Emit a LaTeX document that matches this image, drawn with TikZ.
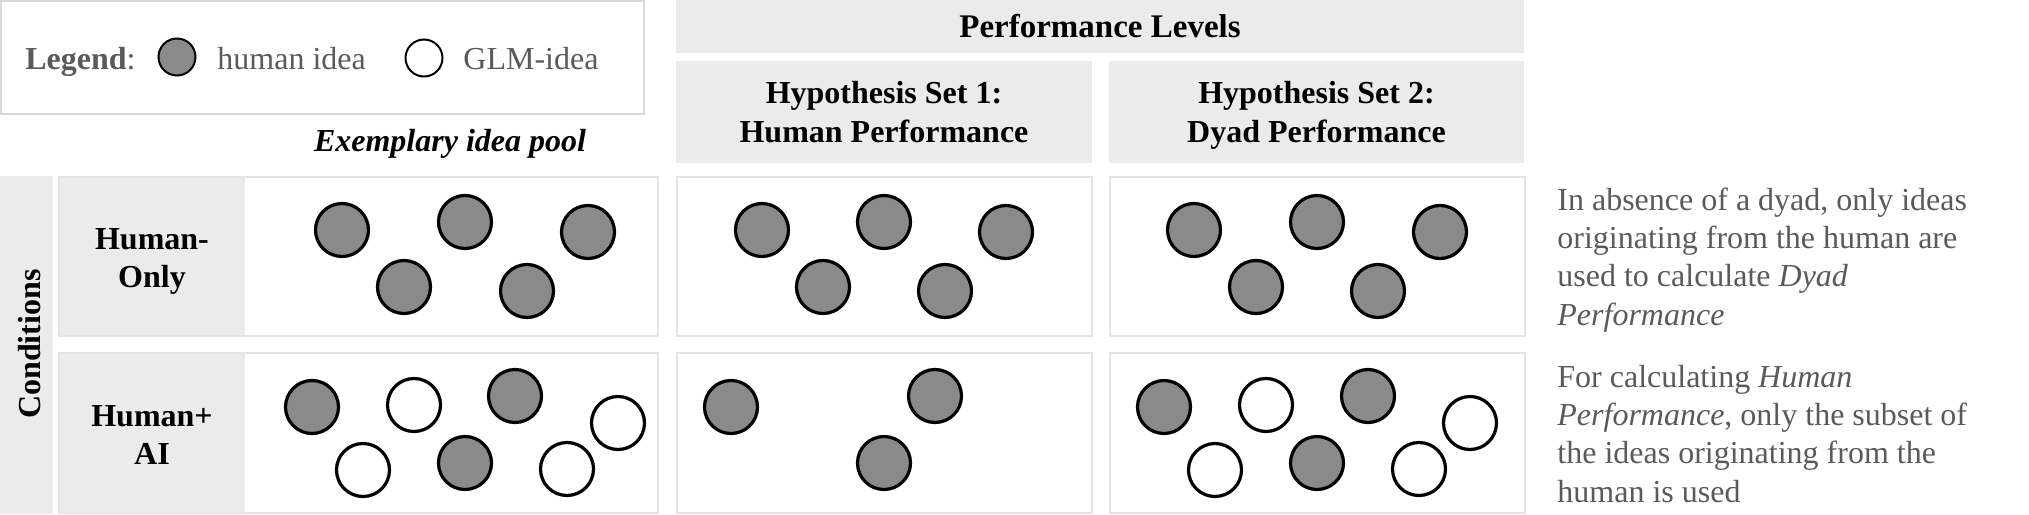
\documentclass[tikz,border=0pt]{standalone}
\usepackage{fontspec}
\setmainfont{Liberation Serif}
\usetikzlibrary{shapes.geometric}
\definecolor{hd}{HTML}{EBEBEB}
\definecolor{bd}{HTML}{E4E4E4}
\definecolor{lg}{HTML}{D9D9D9}
\definecolor{hf}{HTML}{8A8A8A}
\definecolor{tg}{HTML}{5A5A5A}
\tikzset{
  panel/.style={draw=bd, fill=white, line width=1pt},
  hdbox/.style={fill=hd},
  idea/.style={circle, draw=black, line width=1.6pt, inner sep=0pt, minimum size=26.5pt},
  hum/.style={idea, fill=hf},
  glm/.style={idea, fill=white},
  lhum/.style={circle, draw=black, line width=1pt, fill=hf, inner sep=0pt, minimum size=18.5pt},
  lglm/.style={circle, draw=black, line width=1pt, fill=white, inner sep=0pt, minimum size=18.5pt},
  hdtext/.style={font=\bfseries\fontsize{16}{19.5}\selectfont, align=center, inner sep=0pt, anchor=base},
  rowtext/.style={font=\bfseries\fontsize{16}{19}\selectfont, align=center, inner sep=0pt, anchor=base},
  note/.style={font=\fontsize{16}{19.15}\selectfont, text=tg, align=left, anchor=base west, inner sep=0pt},
  legtext/.style={font=\fontsize{16}{18}\selectfont, text=tg, anchor=base west, inner sep=0pt}
}
\begin{document}
\begin{tikzpicture}[x=0.5pt, y=-0.5pt]
\useasboundingbox (0,0) rectangle (2029,514);
% legend
\draw[draw=lg, line width=1.2pt, fill=white] (1,1) rectangle (644,114);
\node[legtext] (legL) at (25,69) {\textbf{Legend}:};
\node[lhum] (legH) at (177,57) {};
\node[legtext] (legHt) at (217,69) {human idea};
\node[lglm] (legG) at (424,58) {};
\node[legtext] (legGt) at (463,69) {GLM-idea};
% headers
\fill[hdbox] (676,0) rectangle (1524,53);
\node[hdtext, font=\bfseries\fontsize{16.5}{19.5}\selectfont] (perf) at (1100,38) {Performance Levels};
\fill[hdbox] (676,61) rectangle (1092,163);
\node[hdtext] (hs1) at (884,142) {Hypothesis Set 1:\\Human Performance};
\fill[hdbox] (1109,61) rectangle (1524,163);
\node[hdtext] (hs2) at (1316.5,142) {Hypothesis Set 2:\\Dyad Performance};
\node[font=\bfseries\itshape\fontsize{16}{19}\selectfont, anchor=base, inner sep=0pt] (pool) at (450,151) {Exemplary idea pool};
% conditions strip
\fill[hdbox] (0,176) rectangle (53,514);
\node[font=\bfseries\fontsize{16}{18}\selectfont, rotate=90, anchor=base, inner sep=0pt] (cond) at (40,344) {Conditions};
% row boxes
\draw[panel] (59,177) rectangle (658,336);
\fill[hdbox] (60,178) rectangle (245,335);
\draw[panel] (59,353) rectangle (658,513);
\fill[hdbox] (60,354) rectangle (245,513);
\node[rowtext] (r1) at (152,287) {Human-\\Only};
\node[rowtext] (r2) at (152,464) {Human+\\AI};
\draw[panel] (677,177) rectangle (1092,336);
\draw[panel] (1110,177) rectangle (1525,336);
\draw[panel] (677,353) rectangle (1092,513);
\draw[panel] (1110,353) rectangle (1525,513);
% exemplary row 1
\node[hum] (e1a) at (342,230) {};
\node[hum] (e1b) at (465,222) {};
\node[hum] (e1c) at (588,232) {};
\node[hum] (e1d) at (404,287) {};
\node[hum] (e1e) at (527,291) {};
% exemplary row 2
\node[hum] (e2a) at (312,407) {};
\node[glm] (e2b) at (414,405) {};
\node[hum] (e2c) at (515,396) {};
\node[glm] (e2d) at (618,423) {};
\node[glm] (e2e) at (363,470) {};
\node[hum] (e2f) at (465,463) {};
\node[glm] (e2g) at (567,469) {};
% H1 row 1
\node[hum] (a1a) at (762,230) {};
\node[hum] (a1b) at (884,222) {};
\node[hum] (a1c) at (1006,232) {};
\node[hum] (a1d) at (823,287) {};
\node[hum] (a1e) at (945,291) {};
% H2 row 1
\node[hum] (b1a) at (1194,230) {};
\node[hum] (b1b) at (1317,222) {};
\node[hum] (b1c) at (1440,232) {};
\node[hum] (b1d) at (1256,287) {};
\node[hum] (b1e) at (1378,291) {};
% H1 row 2
\node[hum] (a2a) at (731,407) {};
\node[hum] (a2c) at (935,396) {};
\node[hum] (a2f) at (884,463) {};
% H2 row 2
\node[hum] (b2a) at (1164,407) {};
\node[glm] (b2b) at (1266,405) {};
\node[hum] (b2c) at (1368,396) {};
\node[glm] (b2d) at (1470,423) {};
\node[glm] (b2e) at (1215,470) {};
\node[hum] (b2f) at (1317,463) {};
\node[glm] (b2g) at (1419,469) {};
% notes
\node[note] (n1) at (1557,325) {In absence of a dyad, only ideas\\originating from the human are\\used to calculate \textit{Dyad}\\\textit{Performance}};
\node[note] (n2) at (1557,502) {For calculating \textit{Human}\\\textit{Performance}, only the subset of\\the ideas originating from the\\human is used};
\end{tikzpicture}
\end{document}
